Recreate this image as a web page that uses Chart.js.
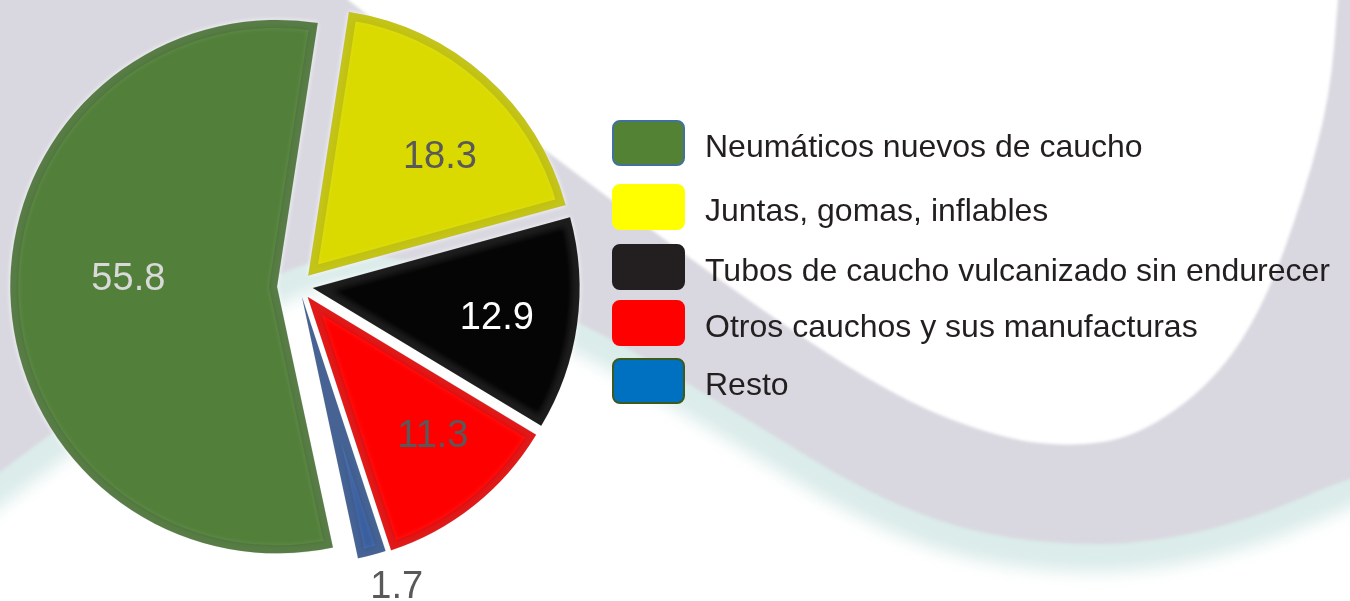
<!DOCTYPE html>
<html lang="es">
<head>
<meta charset="utf-8">
<title>Caucho</title>
<script src="https://cdn.jsdelivr.net/npm/chart.js@4.4.1/dist/chart.umd.min.js"></script>
<style>
    html, body { margin: 0; padding: 0; background: #fff; }
    #wrap { position: relative; width: 1350px; height: 601px; overflow: hidden; }
    #wrap canvas { position: absolute; left: 0; top: 0; }
    #legend { position: absolute; left: 0; top: 0; width: 1350px; height: 601px; pointer-events: none; }
    .key { position: absolute; left: 612px; width: 73px; height: 46px; border-radius: 8px; box-sizing: border-box; }
    .key-text { position: absolute; left: 705px; font: 32px "Liberation Sans", Arial, sans-serif; color: #231f20; white-space: nowrap; line-height: 46px; }
</style>
</head>
<body>
<div id="wrap">
    <canvas id="pieChart" width="1350" height="601"></canvas>
    <div id="legend"></div>
</div>
<script>
const categories = [
    'Neumáticos nuevos de caucho',
    'Juntas, gomas, inflables',
    'Tubos de caucho vulcanizado sin endurecer',
    'Otros cauchos y sus manufacturas',
    'Resto'
];
const shares = [55.8, 18.3, 12.9, 11.3, 1.7];

// slice look
const sliceColors = ['#52803a', '#dada00', '#050505', '#ff0000', '#3a5f9f'];
const rimLight = ['#8dbd6d', '#f4f400', '#6a6a6a', '#ff5050', '#7393cc'];
const rimDark = ['#2d4a1c', '#8d8d00', '#000000', '#8a0000', '#1f3560'];
const explodeBy = [22, 14, 14, 14, 12];
const labelColors = ['#d9d9d9', '#595959', '#ffffff', '#595959', '#595959'];
const labelDist = [0.64, 0.72, 0.75, 0.75, 1.18];
const labelNudgeDeg = [4.6, 5.4, 1.0, -3.4, -2.9];

// legend look
const keyColors = ['#548235', '#ffff00', '#231f20', '#ff0000', '#0070c0'];
const keyBorders = ['#41719c', '#ffff00', '#231f20', '#ff0000', '#3d5a1e'];
const keyTops = [120, 184, 244, 300, 358];

function buildLegend() {
    const box = document.getElementById('legend');
    categories.forEach((name, i) => {
        const k = document.createElement('div');
        k.className = 'key';
        k.style.top = keyTops[i] + 'px';
        k.style.background = keyColors[i];
        k.style.border = '2px solid ' + keyBorders[i];
        box.appendChild(k);
        const t = document.createElement('div');
        t.className = 'key-text';
        t.style.top = (keyTops[i] + 3) + 'px';
        t.textContent = name;
        box.appendChild(t);
    });
}

function sliceFill(ctx) {
    const i = ctx.dataIndex;
    const el = ctx.element;
    const chart = ctx.chart;
    if (!chart.chartArea || !el) return sliceColors[i];
    const { x, y, outerRadius } = el.getProps(['x', 'y', 'outerRadius'], true);
    if (!outerRadius) return sliceColors[i];
    const g = chart.ctx.createRadialGradient(x, y, 0, x, y, outerRadius);
    g.addColorStop(0, sliceColors[i]);
    g.addColorStop(0.86, sliceColors[i]);
    g.addColorStop(0.92, rimLight[i]);
    g.addColorStop(0.95, sliceColors[i]);
    g.addColorStop(0.985, rimDark[i]);
    g.addColorStop(1, rimDark[i]);
    return g;
}

// background swoosh
const backdrop = {
    id: 'backdrop',
    beforeDraw(chart) {
        const c = chart.ctx;
        const inner = [[348, 0], [553, 157], [760, 310], [900, 400], [1000, 438], [1069, 447],
            [1137, 437], [1213, 383], [1264, 306], [1305, 192], [1330, 96], [1338, 0]];
        const outer = [[1350, 477], [1250, 520], [1150, 543], [1060, 545], [960, 530], [862, 490],
            [760, 427], [587, 323], [420, 255], [290, 258], [150, 360], [0, 472]];
        const smooth = (pts) => {
            pts.forEach((p, j) => {
                if (j === pts.length - 1) { c.lineTo(p[0], p[1]); return; }
                const mx = (p[0] + pts[j + 1][0]) / 2, my = (p[1] + pts[j + 1][1]) / 2;
                c.quadraticCurveTo(p[0], p[1], mx, my);
            });
        };
        c.save();
        c.fillStyle = '#ffffff';
        c.fillRect(0, 0, chart.width, chart.height);

        c.filter = 'blur(8px)';
        c.strokeStyle = '#dbecea';
        c.lineWidth = 56;
        c.beginPath();
        c.moveTo(1380, 465);
        smooth(outer);
        c.lineTo(-30, 495);
        c.stroke();

        c.filter = 'blur(1.5px)';
        c.fillStyle = '#d9d8e0';
        c.beginPath();
        c.moveTo(-10, -10);
        c.lineTo(348, -10);
        c.lineTo(348, 0);
        smooth(inner.slice(1));
        c.lineTo(1340, -10);
        c.lineTo(1360, -10);
        c.lineTo(1360, 477);
        smooth(outer);
        c.lineTo(-10, 480);
        c.closePath();
        c.fill();
        c.restore();
    }
};

// pull each slice out from the centre along its middle angle
const explode = {
    id: 'explode',
    afterDatasetUpdate(chart, args) {
        const meta = chart.getDatasetMeta(args.index);
        meta.data.forEach((arc, i) => {
            if (arc.$exploded) return;
            const draw = arc.draw;
            arc.draw = function (ctx) {
                const mid = (this.startAngle + this.endAngle) / 2;
                ctx.save();
                ctx.translate(Math.cos(mid) * explodeBy[i], Math.sin(mid) * explodeBy[i]);
                draw.call(this, ctx);
                ctx.restore();
            };
            arc.$exploded = true;
        });
    }
};

// soft white outline round slices
const sliceGlow = {
    id: 'sliceGlow',
    beforeDatasetsDraw(chart) {
        const c = chart.ctx;
        c.save();
        c.shadowColor = 'rgba(255,255,255,0.95)';
        c.shadowBlur = 5;
    },
    afterDatasetsDraw(chart) {
        chart.ctx.restore();
    }
};

const valueLabels = {
    id: 'valueLabels',
    afterDatasetsDraw(chart) {
        const c = chart.ctx;
        const meta = chart.getDatasetMeta(0);
        c.save();
        c.font = '38px "Liberation Sans", Arial, sans-serif';
        c.textAlign = 'center';
        c.textBaseline = 'middle';
        meta.data.forEach((arc, i) => {
            const { x, y, startAngle, endAngle, outerRadius } = arc.getProps(['x', 'y', 'startAngle', 'endAngle', 'outerRadius'], true);
            const mid = (startAngle + endAngle) / 2 + labelNudgeDeg[i] * Math.PI / 180;
            const d = outerRadius * labelDist[i];
            c.fillStyle = labelColors[i];
            c.fillText(shares[i].toFixed(1), x + Math.cos(mid) * d, y + Math.sin(mid) * d + 2);
        });
        c.restore();
    }
};

let myPieChart = null;

function renderPie() {
    const ctx = document.getElementById('pieChart').getContext('2d');
    if (myPieChart) myPieChart.destroy();

    myPieChart = new Chart(ctx, {
        type: 'pie',
        data: {
            labels: categories,
            datasets: [{
                data: shares,
                backgroundColor: sliceFill,
                borderColor: 'rgba(0,0,0,0.12)',
                borderWidth: 8,
                borderAlign: 'inner'
            }]
        },
        options: {
            responsive: false,
            animation: false,
            rotation: 167.9,
            radius: 267,
            layout: { padding: { left: 0, top: 0, right: 752, bottom: 29 } },
            plugins: {
                legend: { display: false },
                tooltip: { enabled: false }
            }
        },
        plugins: [backdrop, explode, sliceGlow, valueLabels]
    });
}

buildLegend();
renderPie();
</script>
</body>
</html>
